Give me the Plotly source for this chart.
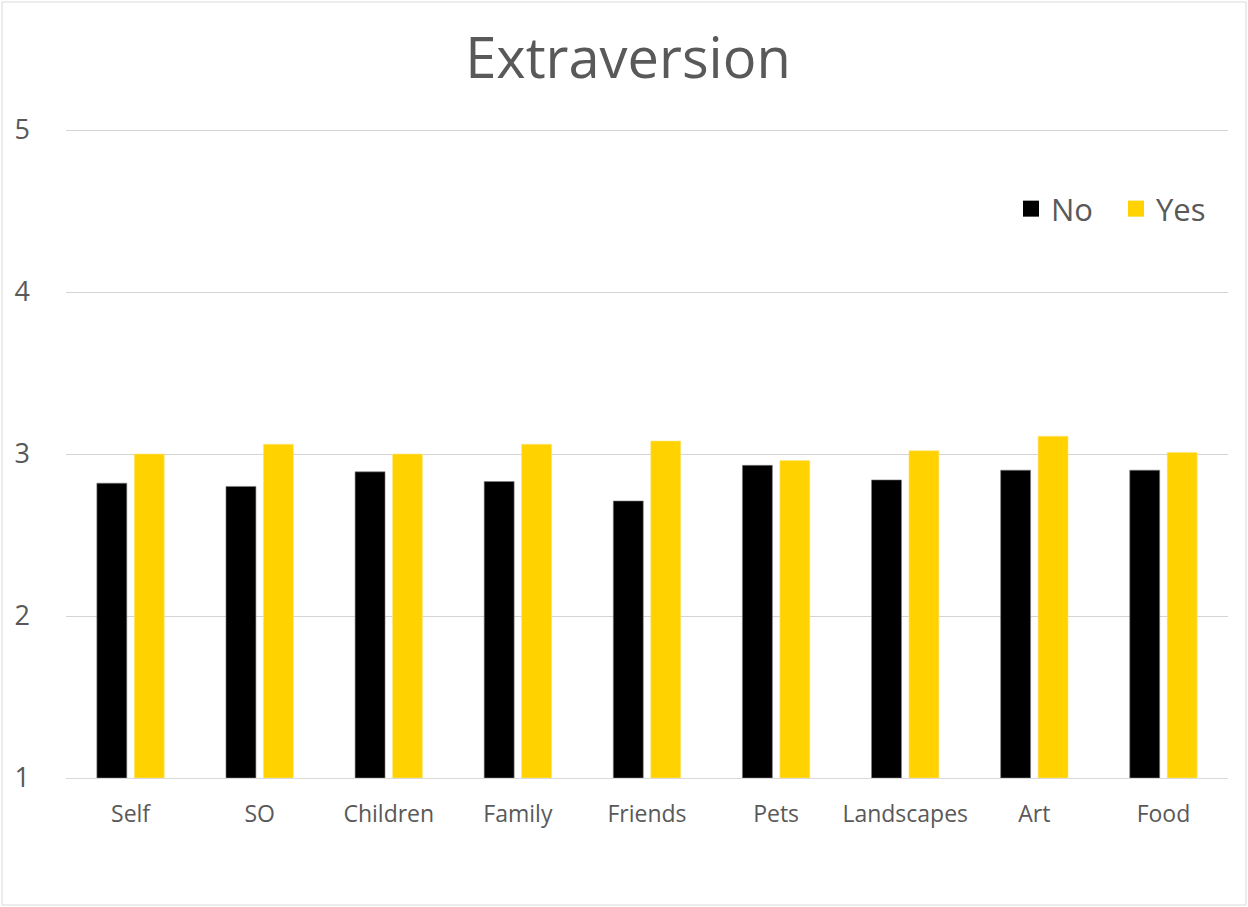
import plotly.graph_objects as go

categories = ["Self", "SO", "Children", "Family", "Friends", "Pets", "Landscapes", "Art", "Food"]
no_values = [2.82, 2.80, 2.89, 2.83, 2.71, 2.93, 2.84, 2.90, 2.90]
yes_values = [3.00, 3.06, 3.00, 3.06, 3.08, 2.96, 3.02, 3.11, 3.01]
y_ticks = [1, 2, 3, 4, 5]
series_colors = {"No": "#000000", "Yes": "#FFD200"}

W, H = 1248, 907
L, R, T, B = 66, 20, 124, 129
pw, ph = W - L - R, H - T - B
UNIT_PX = 162  # pixels per y unit
FONT = "Open Sans"
GREY = "#595959"

def px_x(p):
    return (p - L) / pw

def px_y(p):
    return (H - B - p) / ph

fig = go.Figure()
fig.add_trace(go.Bar(name="No", x=categories, y=[v - 1 for v in no_values], base=1,
                     marker=dict(color=series_colors["No"], line=dict(color="#7f7f7f", width=0.6)),
                     customdata=no_values, showlegend=False,
                     hovertemplate="%{x}: %{customdata}<extra>No</extra>"))
fig.add_trace(go.Bar(name="Yes", x=categories, y=[v - 1 for v in yes_values], base=1,
                     marker=dict(color=series_colors["Yes"], line=dict(color="#FFE680", width=0.6)),
                     customdata=yes_values, showlegend=False,
                     hovertemplate="%{x}: %{customdata}<extra>Yes</extra>"))

# legend entries with large square swatches
for name, col in series_colors.items():
    fig.add_trace(go.Scatter(name=name, x=[None], y=[None], mode="markers",
                             marker=dict(symbol="square", size=21, color=col), showlegend=True))

fig.update_layout(
    width=W, height=H,
    margin=dict(l=L, r=R, t=T, b=B, autoexpand=False),
    paper_bgcolor="white", plot_bgcolor="white",
    barmode="group", bargap=0.42, bargroupgap=0.2,
    title=dict(text="Extraversion", xref="container", x=628 / W, xanchor="center",
               yref="container", y=1 - 58 / H, yanchor="middle",
               font=dict(family=FONT, size=56, color=GREY)),
    legend=dict(orientation="h", x=px_x(1011), xanchor="left", y=px_y(209), yanchor="middle",
                font=dict(family=FONT, size=31, color=GREY), bgcolor="rgba(0,0,0,0)",
                itemwidth=30, entrywidth=60, traceorder="normal"),
    xaxis=dict(showgrid=False, showline=True, linecolor="#D9D9D9", linewidth=1, ticks="",
               ticklabelstandoff=15,
               tickfont=dict(family=FONT, size=23, color=GREY)),
    yaxis=dict(range=[1, 1 + ph / UNIT_PX], tickvals=y_ticks, showgrid=True,
               gridcolor="#D4D4D4", gridwidth=1.4,
               zeroline=False, showline=False, ticks="", ticklabelstandoff=35,
               tickfont=dict(family=FONT, size=27, color=GREY)),
)

# chart border
fig.add_shape(type="rect", xref="paper", yref="paper",
              x0=px_x(2), x1=px_x(1246), y0=px_y(905), y1=px_y(2),
              line=dict(color="#D9D9D9", width=1), fillcolor="rgba(0,0,0,0)", layer="below")

fig.write_html("out.html")
